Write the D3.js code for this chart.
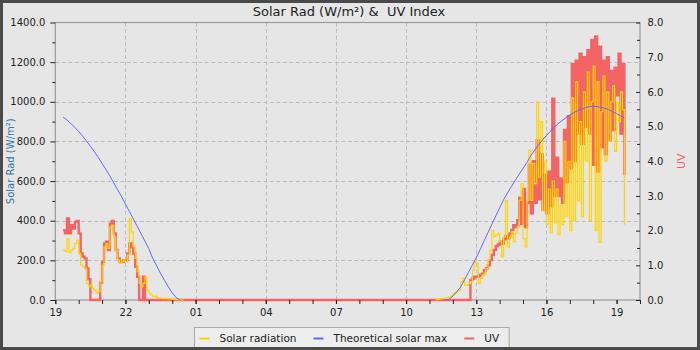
<!DOCTYPE html>
<html><head><meta charset="utf-8">
<script src="https://cdn.jsdelivr.net/npm/d3@7"></script>
<style>
html,body{margin:0;padding:0;background:#e6e6e6;}
svg{display:block;font-family:"DejaVu Sans",sans-serif;}
</style></head><body>
<svg id="chart" width="700" height="350"></svg>
<script>
// ---------------- data ----------------
const startTime = new Date(2024, 5, 1, 19, 0, 0);          // 19:00, first day
const eveningMinutes = d3.range(20, 335, 5);               // sample times, minutes after start
const dayMinutes = d3.range(975, 1465, 5);
const theoEveningMinutes = d3.range(20, 330, 10);
const theoDayMinutes = d3.range(1000, 1470, 10);

const solarEvening = [252,244,310,240,252,260,285,302,235,176,
  168,160,84,67,75,59,50,34,42,92,
  176,268,285,260,369,378,319,252,201,185,
  193,201,193,227,411,344,268,210,143,84,
  67,84,117,50,34,25,17,20,13,10,
  8,7,8,7,5,5,3,3,2,0,
  0,0,0];
const solarDay = [0,3,6,8,8,10,12,15,20,30,
  37,44,50,92,109,75,75,84,92,151,
  193,185,84,109,126,134,159,201,252,352,
  319,327,336,294,218,319,503,268,319,344,
  294,336,369,503,587,310,268,503,755,503,
  688,587,1000,620,900,450,700,380,560,340,
  600,390,560,330,480,380,800,420,700,350,
  1020,400,1100,500,900,420,1050,700,1150,400,
  1000,1180,350,1100,290,950,1130,700,1050,800,
  1000,1080,750,1000,900,1050,960,380];
const uvEvening = [2.01,1.92,2.35,1.92,2.16,2.06,2.25,2.28,1.92,1.34,
  1.25,1.2,0.91,0.6,0,0,0,0,0,0.5,
  1.1,1.63,1.68,1.44,2.2,2.28,1.92,1.44,1.2,1.1,
  1.1,1.15,1.15,1.34,1.63,1.53,1.34,0.96,0.67,0,
  0,0.67,0,0,0,0,0,0,0,0,
  0,0,0,0,0,0,0,0,0,0,
  0,0,0];
const uvDay = [0,0,0,0,0,0,0,0,0,0,
  0,0,0,0,0,0,0,0,0.58,0.62,
  0.67,0.67,0.7,0.72,0.76,0.86,0.92,1.0,1.15,1.3,
  1.44,1.55,1.6,1.68,1.62,1.75,1.85,1.78,1.92,2.02,
  2.16,2.1,2.3,2.95,2.2,3.2,2.1,2.8,3.9,2.5,
  4.0,2.8,4.6,2.9,4.2,2.6,3.6,2.5,3.7,2.7,
  5.8,3.0,4.1,3.0,3.5,2.8,4.9,3.4,5.3,3.8,
  6.8,4.0,6.9,4.8,7.1,4.5,7.0,5.0,7.2,4.8,
  7.5,3.9,7.6,3.7,7.3,4.4,6.9,4.2,7.0,4.6,
  6.6,4.9,6.7,5.9,7.1,4.8,6.8,3.6];
const theoEvening = [923,908,890,871,850,827,802,776,749,720,
  689,658,625,591,556,521,484,447,410,372,
  334,297,259,210,172,135,100,66,36,12,0];
const theoDay = [0,3,20,42,66,103,140,176,214,255,
  298,340,382,424,465,506,540,572,604,635,
  664,695,728,757,783,808,830,851,871,890,
  905,920,933,945,955,963,970,975,977,976,
  972,967,960,950,940,929,918];

const xTickHours = [0,3,6,9,12,15,18,21,24];
const xMinorHours = d3.range(0, 26);
const leftTicks = [0,200,400,600,800,1000,1200,1400];
const leftMinor = [100,300,500,700,900,1100,1300];
const rightTicks = [0,1,2,3,4,5,6,7,8];
const rightMinor = [0.5,1.5,2.5,3.5,4.5,5.5,6.5,7.5];
const seriesNames = ["Solar radiation","Theoretical solar max","UV"];
const titleText = "Solar Rad (W/m²) &  UV Index";
const leftTitle = "Solar Rad (W/m²)";
const rightTitle = "UV";

// ---------------- drawing ----------------
const W = 700, H = 350;
const P = {left:55.3, right:640, top:22.5, bottom:300};
const colors = {solar:"#ffd400", theo:"#6464ff", uv:"#f46464"};
const toDate = mm => new Date(startTime.getTime() + mm*60000);

const svg = d3.select("#chart");
svg.append("rect").attr("x",0).attr("y",0).attr("width",W).attr("height",H).attr("fill","#e6e6e6");

const x = d3.scaleTime().domain([toDate(0), toDate(1500)]).range([P.left, P.right]);
const yL = d3.scaleLinear().domain([0,1400]).range([P.bottom, P.top]);
const yR = d3.scaleLinear().domain([0,8]).range([P.bottom, P.top]);

// grid
const grid = svg.append("g").attr("stroke","#bcbcbc").attr("stroke-width",1).attr("stroke-dasharray","4,2.5");
leftTicks.slice(1,-1).forEach(v=>{
  grid.append("line").attr("x1",P.left).attr("x2",P.right).attr("y1",Math.round(yL(v))+0.5).attr("y2",Math.round(yL(v))+0.5);
});
xTickHours.slice(1,-1).forEach(h=>{
  const xx = Math.round(x(toDate(h*60)))+0.5;
  grid.append("line").attr("x1",xx).attr("x2",xx).attr("y1",P.top).attr("y2",P.bottom);
});

// frame
svg.append("rect").attr("x",P.left).attr("y",P.top).attr("width",P.right-P.left).attr("height",P.bottom-P.top)
  .attr("fill","none").attr("stroke","#9a9a9a").attr("stroke-width",1.2);

// clip
svg.append("clipPath").attr("id","clip").append("rect")
  .attr("x",P.left).attr("y",P.top-2).attr("width",P.right-P.left).attr("height",P.bottom-P.top+4);
const plot = svg.append("g").attr("clip-path","url(#clip)");

const zip = (ms, vs) => ms.map((m,i)=>({t:toDate(m), v:vs[i]})).filter(d=>d.v!=null);

const uvLine = d3.line().curve(d3.curveStepAfter).x(d=>x(d.t)).y(d=>yR(d.v));
const solarLine = d3.line().curve(d3.curveStepAfter).x(d=>x(d.t)).y(d=>yL(d.v));
const theoLine = d3.line().x(d=>x(d.t)).y(d=>yL(d.v));

plot.append("path").datum(zip(eveningMinutes.concat(dayMinutes), uvEvening.concat(uvDay)))
  .attr("d",uvLine).attr("fill","none").attr("stroke",colors.uv).attr("stroke-width",2.4).attr("stroke-linejoin","miter");
[[eveningMinutes, solarEvening],[dayMinutes, solarDay]].forEach(([ms,vs])=>{
  plot.append("path").datum(zip(ms,vs)).attr("d",solarLine).attr("fill","none")
    .attr("stroke",colors.solar).attr("stroke-width",1.2);
});
[[theoEveningMinutes, theoEvening],[theoDayMinutes, theoDay]].forEach(([ms,vs])=>{
  plot.append("path").datum(zip(ms,vs)).attr("d",theoLine).attr("fill","none")
    .attr("stroke",colors.theo).attr("stroke-width",1);
});

// axes
function styleAxis(g){
  g.select(".domain").remove();
  g.selectAll(".tick line").attr("stroke","#222");
  g.selectAll(".tick text").attr("fill","#222").style("font-family","DejaVu Sans").style("font-size","10px");
}
const fmt1 = d3.format(".1f");
svg.append("g").attr("transform",`translate(${P.left},0)`)
  .call(d3.axisLeft(yL).tickValues(leftTicks).tickFormat(fmt1).tickSize(5).tickPadding(5)).call(styleAxis);
svg.append("g").attr("transform",`translate(${P.left},0)`)
  .call(d3.axisLeft(yL).tickValues(leftMinor).tickFormat("").tickSize(3)).call(styleAxis);
svg.append("g").attr("transform",`translate(${P.right},0)`)
  .call(d3.axisRight(yR).tickValues(rightTicks).tickFormat(fmt1).tickSizeInner(-4).tickSizeOuter(0).tickPadding(7.5)).call(styleAxis);
svg.append("g").attr("transform",`translate(${P.right},0)`)
  .call(d3.axisRight(yR).tickValues(rightMinor).tickFormat("").tickSizeInner(-3).tickSizeOuter(0)).call(styleAxis);
svg.append("g").attr("transform",`translate(0,${P.bottom})`)
  .call(d3.axisBottom(x).tickValues(xMinorHours.map(h=>toDate(h*60))).tickFormat("").tickSize(4)).call(styleAxis);
svg.append("g").attr("transform",`translate(0,${P.bottom})`)
  .call(d3.axisBottom(x).tickValues(xTickHours.map(h=>toDate(h*60))).tickFormat(d3.timeFormat("%H")).tickSize(4).tickPadding(5)).call(styleAxis);

// titles
svg.append("text").attr("x",349).attr("y",15.5).attr("text-anchor","middle")
  .style("font-size","13px").style("white-space","pre").attr("fill","#222").text(titleText);
svg.append("text").attr("transform",`translate(13.5,${(P.top+P.bottom)/2}) rotate(-90)`).attr("text-anchor","middle")
  .style("font-size","10px").attr("fill","#2b77a8").text(leftTitle);
svg.append("text").attr("transform",`translate(685,${(P.top+P.bottom)/2}) rotate(-90)`).attr("text-anchor","middle")
  .style("font-size","11px").attr("fill","#f06464").text(rightTitle);

// legend
const lg = svg.append("g");
const lgBox = lg.append("rect").attr("x",194.5).attr("y",327.5).attr("height",30)
  .attr("fill","#ededed").attr("stroke","#a8a8a8").attr("stroke-width",1);
let lx = 199.5;
const legendColors = [colors.solar, colors.theo, colors.uv];
seriesNames.forEach((name,i)=>{
  lg.append("line").attr("x1",lx).attr("x2",lx+10).attr("y1",338.5).attr("y2",338.5)
    .attr("stroke",legendColors[i]).attr("stroke-width",2);
  const t = lg.append("text").attr("x",lx+20).attr("y",342.2).style("font-size","10.5px").attr("fill","#222").text(name);
  lx = lx + 20 + t.node().getComputedTextLength() + 17;
});
lgBox.attr("width", lx - 17 + 10 - 194.5);

// outer border
svg.append("rect").attr("x",1.5).attr("y",1.5).attr("width",W-3).attr("height",H-3)
  .attr("fill","none").attr("stroke","#4a4a4a").attr("stroke-width",3);
</script>
</body></html>
